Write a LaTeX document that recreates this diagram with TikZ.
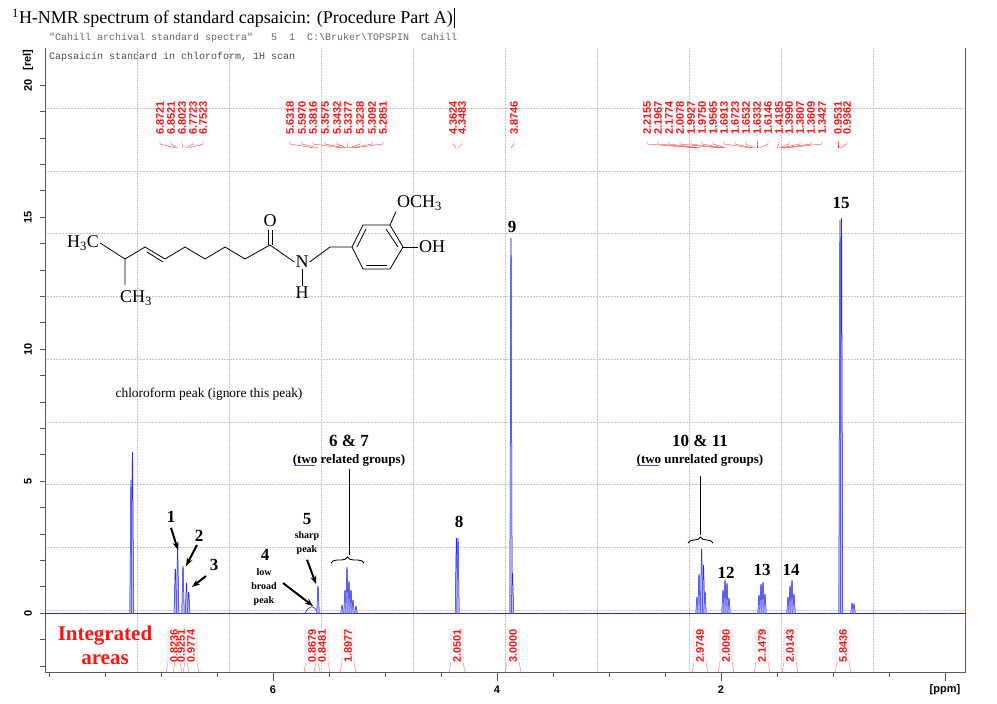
\documentclass[tikz,border=0pt]{standalone}
\usepackage{fontspec}
\setmainfont{Liberation Serif}
\newfontfamily\monof{Liberation Mono}
\newfontfamily\sansf{Liberation Sans}
\usetikzlibrary{decorations.pathreplacing,arrows.meta}
\definecolor{spec}{RGB}{40,40,235}
\definecolor{redl}{RGB}{255,20,20}
\begin{document}
\begin{tikzpicture}[x=1pt,y=-1pt,
  grid/.style={gray!45,densely dotted,line width=0.5pt},
  ppmlab/.style={redl,font=\sansf\bfseries\fontsize{11}{12}\selectfont,rotate=90,inner sep=0pt,anchor=east},
  intlab/.style={redl,font=\sansf\bfseries\fontsize{11}{12}\selectfont,rotate=90,inner sep=0.6pt,anchor=center,fill=white},
  axlab/.style={font=\sansf\bfseries\fontsize{11}{12}\selectfont,inner sep=0pt},
  num/.style={font=\bfseries\fontsize{17}{18}\selectfont,inner sep=0pt},
  small/.style={font=\bfseries\fontsize{10}{14}\selectfont,align=center,inner sep=0pt},
  grp/.style={font=\bfseries\fontsize{13}{14}\selectfont,inner sep=0pt},
  arr/.style={-{Stealth[length=8pt,width=6pt]},line width=2pt},
  bond/.style={line width=0.8pt},
  chem/.style={font=\fontsize{18}{19}\selectfont,inner sep=1pt}]
\useasboundingbox (0,0) rectangle (997,704);
% title
\node[anchor=west,font=\fontsize{18}{19}\selectfont,inner sep=0pt] (title) at (12,18) {\textsuperscript{1}H-NMR spectrum of standard capsaicin: (Procedure Part A)};
\draw (title.east)++(1,-10) -- ++(0,20);
\node[anchor=west,text=gray!80!black,font=\monof\fontsize{10}{11}\selectfont,inner sep=0pt] (hdr) at (49,38) {"Cahill archival standard spectra"~~~5~~1~~C:\textbackslash Bruker\textbackslash TOPSPIN~~Cahill};
\node[anchor=west,text=gray!60!black,font=\monof\fontsize{10}{11}\selectfont,inner sep=0pt] (sub) at (49,57) {Capsaicin standard in chloroform, 1H scan};
% grid
\foreach \gx in {137,229,321,413,505,597,689,781,873} \draw[grid] (\gx,48) -- (\gx,672);
\foreach \k in {0,...,8} \draw[grid] (45,108+62.75*\k) -- (965,108+62.75*\k);
% frame
\draw[gray!70!black,line width=0.6pt] (45,48) -- (45,672) -- (965,672) -- (965,48);
% y ticks
\foreach \v in {-2,...,20} \draw[gray!70!black] (45,613-26.4*\v) -- (40,613-26.4*\v);
\foreach \v in {0,5,10,15,20} \node[axlab,rotate=90] at (28,613-26.4*\v) {\v};
\node[axlab,rotate=90] (rel) at (28,60) {[rel]};
% x ticks
\foreach \p in {0,0.5,...,8} \draw[gray!70!black] ({273+(6-\p)*112},672) -- ({273+(6-\p)*112},677);
\foreach \p in {0,2,4,6} \draw[gray!70!black] ({273+(6-\p)*112},672) -- ({273+(6-\p)*112},681);
\node[axlab] (x6) at (273,690) {6};
\node[axlab] (x4) at (497,690) {4};
\node[axlab] (x2) at (721,690) {2};
\node[axlab] (ppm) at (945,690) {[ppm]};
% spectrum
\newcommand{\pk}[2]{\fill[spec!30] ({#1-1.6},613) -- ({#1-0.3},#2) -- ({#1+0.3},#2) -- ({#1+1.6},613) -- cycle;
  \draw[spec,line width=0.5pt] ({#1-1.2},613) -- ({#1-0.2},#2) -- ({#1+0.2},#2) -- ({#1+1.2},613);}
\draw[spec,line width=0.6pt] (45,613) -- (965,613);
\pk{131}{480}\pk{132.5}{452}
\pk{175.3}{569}\pk{177.6}{546}\pk{183}{566}\pk{186.5}{583}\pk{188.7}{592}
\draw[spec,line width=0.6pt] (305,613) .. controls (310,605) and (313,604) .. (318,613);
\pk{318}{586}
\pk{342}{605}\pk{345}{590}\pk{347}{567}\pk{349}{581}\pk{351}{590}\pk{353}{600}\pk{356}{606}
\pk{456.4}{538}\pk{458}{538}
\pk{511}{238}\pk{512.5}{573}
\pk{697}{597}\pk{699}{574}\pk{701.6}{549}\pk{703.5}{565}\pk{705}{592}
\pk{723}{590}\pk{725}{580}\pk{727}{583}\pk{729}{598}
\pk{759}{595}\pk{761}{584}\pk{763}{582}\pk{765}{594}
\pk{788}{597}\pk{790}{586}\pk{792}{580}\pk{794}{594}
\pk{840}{220}\pk{841.5}{218}
\pk{852}{603}\pk{854}{604}
% ppm labels
\newcommand{\pl}[3]{\node[ppmlab] at (#1,101) {#3}; \draw[redl,line width=0.3pt] (#1,141) -- (#1,144) -- (#2,148);}
\pl{160}{175}{6.8721}\pl{171}{177}{6.8521}\pl{182}{183}{6.8023}\pl{193}{186}{6.7723}\pl{203}{189}{6.7523}
\pl{290}{314}{5.6318}\pl{302}{318}{5.5970}\pl{313}{342}{5.3816}\pl{325}{345}{5.3575}\pl{337}{347}{5.3432}\pl{348}{347}{5.3377}\pl{360}{349}{5.3238}\pl{372}{351}{5.3092}\pl{383}{353}{5.2851}
\pl{453}{456}{4.3624}\pl{462}{458}{4.3483}
\pl{514}{511}{3.8746}
\pl{647}{697}{2.2155}\pl{658}{699}{2.1967}\pl{669}{701}{2.1774}\pl{680}{720}{2.0078}\pl{691}{722}{1.9927}\pl{702}{724}{1.9750}\pl{713}{726}{1.9565}\pl{724}{751}{1.6913}\pl{735}{753}{1.6723}\pl{746}{755}{1.6532}\pl{757}{757}{1.6332}\pl{768}{759}{1.6146}\pl{779}{777}{1.4185}\pl{789}{779}{1.3990}\pl{800}{781}{1.3807}\pl{811}{783}{1.3609}\pl{822}{785}{1.3427}
\pl{838}{838}{0.9531}\pl{847}{840}{0.9362}
% integrals
\newcommand{\il}[2]{\draw[redl!60,line width=0.4pt] ({#1-6},628) -- ({#1-6},662) -- ({#1-8},672) ({#1+6},628) -- ({#1+6},662) -- ({#1+8},672);
  \node[intlab] at (#1,646) {#2};}
\il{174}{0.8236}\il{181}{0.9251}\il{191}{0.9774}
\il{312}{0.8679}\il{322}{0.8481}
\il{348}{1.8977}\il{457}{2.0501}\il{513}{3.0000}
\il{700}{2.9749}\il{726}{2.0090}\il{762}{2.1479}\il{790}{2.0143}\il{843}{5.8436}
\node[redl,font=\bfseries\fontsize{21}{24}\selectfont,align=center,inner sep=0pt] (ia) at (105,645) {Integrated\\areas};
% annotations
\node (chl) [font=\fontsize{13.4}{14}\selectfont,inner sep=0pt] at (209,394) {chloroform peak (ignore this peak)};
\node[num] (n1) at (171,517) {1};
\node[num] (n2) at (199,536) {2};
\node[num] (n3) at (214,565) {3};
\node[num] (n4) at (265,555) {4};
\node[small] (l4) at (264,587) {low\\broad\\peak};
\node[num] (n5) at (307,519) {5};
\node[small] (l5) at (307,543) {sharp\\peak};
\node[num] (n67) at (349,441) {6 \& 7};
\node[grp] (l67) at (349,460) {(two related groups)};
\node[num] (n8) at (459,522) {8};
\node[num] (n9) at (512,227) {9};
\node[num] (n1011) at (700,441) {10 \& 11};
\node[grp] (l1011) at (700,460) {(two unrelated groups)};
\node[num] (n12) at (726,573) {12};
\node[num] (n13) at (762,570) {13};
\node[num] (n14) at (791,570) {14};
\node[num] (n15) at (841,203) {15};
\draw[blue!70,line width=0.6pt] (294,465) -- (315,465);
\draw[blue!70,line width=0.6pt] (637,465) -- (659,465);
\coordinate (a1) at (178,550); \coordinate (a2) at (186,566); \coordinate (a3) at (192,587); \coordinate (a4) at (313,606); \coordinate (a5) at (316,584);
\draw[arr] (n1.south)++(0,5) -- (a1);
\draw[arr] (197,545) -- (a2);
\draw[arr] (206,576) -- (a3);
\draw[arr] (283,583) -- (a4);
\draw[arr] (l5.south)++(0,5) -- (a5);
\draw[decorate,decoration={brace,amplitude=6pt},line width=0.9pt] (331,563) -- (364,563);
\draw[line width=0.9pt] (349,555) -- (349,469);
\draw[decorate,decoration={brace,amplitude=6pt},line width=0.9pt] (688,543) -- (713,543);
\draw[line width=0.7pt] (700,535) -- (700,476);
% structure
\node[chem] (h3c) at (83,243) {H\textsubscript{3}C};
\node[chem] (ch3) at (136,298) {CH\textsubscript{3}};
\node[chem] (o) at (270,221) {O};
\node[chem] (n) at (302,262) {N};
\node[chem] (h) at (302,293) {H};
\node[chem,anchor=west] (och3) at (396,203) {OCH\textsubscript{3}};
\node[chem,anchor=west] (oh) at (418,247) {OH};
\coordinate (c1) at (125,259);
\draw[bond] (h3c.east) -- (c1) -- (125,285);
\draw[bond] (c1) -- (145,247) -- (165,259) -- (185,247) -- (205,259) -- (225,247) -- (245,259) -- (270,245) -- (n.west);
\draw[bond] (147,252) -- (163,262);
\draw[bond] (268,245) -- (268,230);
\draw[bond] (272,245) -- (272,230);
\draw[bond] (n.south) -- (h.north);
\draw[bond] (n.east) -- (330,247) -- (352,247);
\draw[bond] (352,247) -- (363,225) -- (390,225) -- (403,247) -- (390,269) -- (363,269) -- cycle;
\draw[bond] (357,247) -- (366,229);
\draw[bond] (386,229) -- (398,247);
\draw[bond] (366,265) -- (387,265);
\draw[bond] (390,225) -- (och3.south west);
\draw[bond] (403,247) -- (oh.west);
\end{tikzpicture}
\end{document}
